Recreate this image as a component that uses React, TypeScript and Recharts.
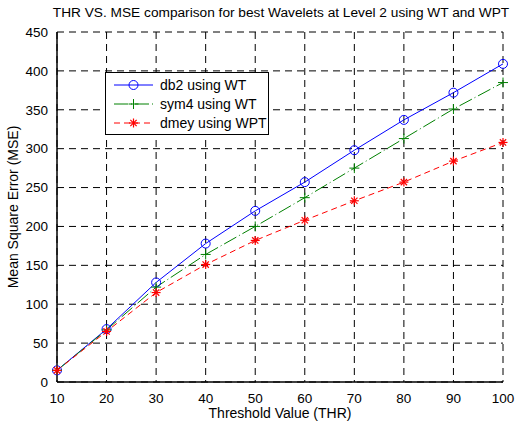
import React from 'react';
import { LineChart, Line, XAxis, YAxis, CartesianGrid } from 'recharts';

const thresholds = [10, 20, 30, 40, 50, 60, 70, 80, 90, 100];
const db2WT = [15, 68, 128, 178, 220, 257, 298, 337, 372, 409];
const sym4WT = [15, 67, 122, 164, 200, 237, 275, 313, 351, 385];
const dmeyWPT = [15, 65, 115, 151, 182, 208, 233, 257, 284, 308];
const xTicks = [10, 20, 30, 40, 50, 60, 70, 80, 90, 100];
const yTicks = [0, 50, 100, 150, 200, 250, 300, 350, 400, 450];

const data = thresholds.map((t, i) => ({ thr: t, db2: db2WT[i], sym4: sym4WT[i], dmey: dmeyWPT[i] }));

const FONT = '"Liberation Sans", Arial, sans-serif';

const Circle = (props: any) => {
  const { cx, cy } = props;
  if (cx == null || cy == null) return null;
  return <circle cx={cx} cy={cy} r={4.5} fill="none" stroke="#0000ff" strokeWidth={1} />;
};
const Plus = (props: any) => {
  const { cx, cy } = props;
  if (cx == null || cy == null) return null;
  const s = 5;
  return (
    <g stroke="#008000" strokeWidth={1}>
      <line x1={cx - s} y1={cy} x2={cx + s} y2={cy} />
      <line x1={cx} y1={cy - s} x2={cx} y2={cy + s} />
    </g>
  );
};
const Star = (props: any) => {
  const { cx, cy } = props;
  if (cx == null || cy == null) return null;
  const s = 4.5;
  const d = s * 0.7;
  return (
    <g stroke="#ff0000" strokeWidth={1.2}>
      <line x1={cx - s} y1={cy} x2={cx + s} y2={cy} />
      <line x1={cx} y1={cy - s} x2={cx} y2={cy + s} />
      <line x1={cx - d} y1={cy - d} x2={cx + d} y2={cy + d} />
      <line x1={cx - d} y1={cy + d} x2={cx + d} y2={cy - d} />
    </g>
  );
};

const legendItems = [
  { label: 'db2 using WT', color: '#0000ff', dash: undefined as string | undefined, Marker: Circle },
  { label: 'sym4 using WT', color: '#008000', dash: '14 3 1 3', Marker: Plus },
  { label: 'dmey using WPT', color: '#ff0000', dash: '6 4', Marker: Star },
];

const LegendBox = () => (
  <div style={{ position: 'absolute', left: 105, top: 72, width: 164, height: 63, border: '1px solid #000', background: '#fff', boxSizing: 'border-box' }}>
    {legendItems.map((it, i) => (
      <div key={i} style={{ position: 'absolute', left: 0, top: 3.5 + i * 19.3, height: 16, display: 'flex', alignItems: 'center' }}>
        <svg width={53} height={16} style={{ display: 'block' }}>
          <line x1={8} y1={8} x2={47} y2={8} stroke={it.color} strokeWidth={1} strokeDasharray={it.dash} />
          <it.Marker cx={27.5} cy={8} />
        </svg>
        <span style={{ fontFamily: FONT, fontSize: 14, color: '#000', marginLeft: 1, whiteSpace: 'nowrap' }}>{it.label}</span>
      </div>
    ))}
  </div>
);

export default function App() {
  return (
    <div style={{ position: 'absolute', left: 0, top: 0, width: 515, height: 423, background: '#fff' }}>
      <LineChart width={515} height={423} data={data} margin={{ top: 32, right: 12, left: 0, bottom: 0 }}>
        <text x={281} y={17} textAnchor="middle" fontFamily={FONT} fontSize={13.7} fill="#000">
          THR VS. MSE comparison for best Wavelets at Level 2 using WT and WPT
        </text>
        <CartesianGrid stroke="#000" strokeDasharray="7 5" strokeWidth={1} />
        <XAxis
          dataKey="thr"
          type="number"
          domain={[10, 100]}
          ticks={xTicks}
          interval={0}
          height={41}
          axisLine={{ stroke: '#000', strokeWidth: 1.5 }}
          tickLine={false}
          tickMargin={5}
          tick={{ fontFamily: FONT, fontSize: 13.5, fill: '#000' }}
          label={{ value: 'Threshold Value (THR)', position: 'insideBottom', offset: 5, style: { fontFamily: FONT, fontSize: 14, fill: '#000' } }}
        />
        <XAxis xAxisId="top" orientation="top" dataKey="thr" type="number" domain={[10, 100]} height={0} tick={false} tickLine={false} axisLine={{ stroke: '#000', strokeWidth: 1.5 }} />
        <YAxis
          type="number"
          domain={[0, 450]}
          ticks={yTicks}
          interval={0}
          width={57}
          axisLine={{ stroke: '#000', strokeWidth: 1.5 }}
          tickLine={false}
          tickMargin={3}
          tick={{ fontFamily: FONT, fontSize: 13.5, fill: '#000' }}
          label={{ value: 'Mean Square Error (MSE)', angle: -90, position: 'insideLeft', offset: 13, style: { fontFamily: FONT, fontSize: 14, fill: '#000', textAnchor: 'middle' } }}
        />
        <YAxis yAxisId="right" orientation="right" domain={[0, 450]} width={0} tick={false} tickLine={false} axisLine={{ stroke: '#000', strokeWidth: 1.5 }} />
        <Line dataKey="db2" stroke="#0000ff" strokeWidth={1} dot={<Circle />} activeDot={false} isAnimationActive={false} />
        <Line dataKey="sym4" stroke="#008000" strokeWidth={1} strokeDasharray="14 3 1 3" dot={<Plus />} activeDot={false} isAnimationActive={false} />
        <Line dataKey="dmey" stroke="#ff0000" strokeWidth={1} strokeDasharray="6 4" dot={<Star />} activeDot={false} isAnimationActive={false} />
      </LineChart>
      <LegendBox />
    </div>
  );
}
